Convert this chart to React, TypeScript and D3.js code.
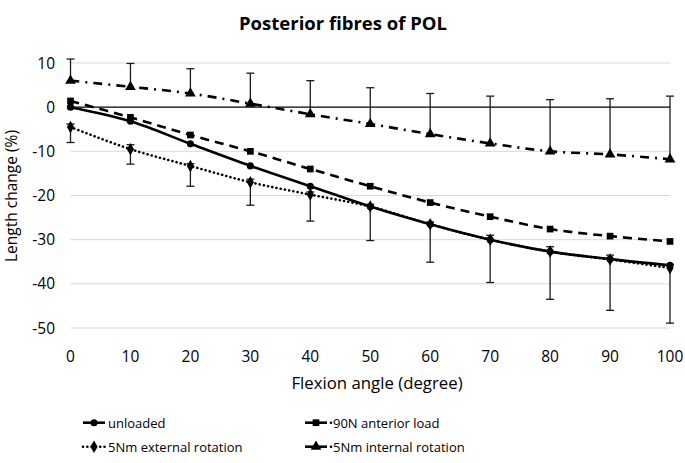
import React from "react";
import * as d3 from "d3";

const angles = [0, 10, 20, 30, 40, 50, 60, 70, 80, 90, 100];
const unloaded = [0, -3.2, -8.3, -13.3, -17.9, -22.5, -26.5, -30, -32.7, -34.4, -35.8];
const anterior = [1.4, -2.3, -6.3, -10, -14, -17.9, -21.6, -24.8, -27.6, -29.2, -30.4];
const external = [-4.5, -9.5, -13.3, -17, -19.8, -22.5, -26.5, -30, -32.7, -34.5, -36.4];
const internal = [6, 4.6, 3.1, 0.8, -1.6, -3.8, -6.1, -8.2, -10, -10.7, -11.8];
const externalErrPlus = [0.7, 1, 0.5, 0.7, 0.6, 0.5, 0.5, 1, 1.1, 1, 0.8];
const externalErrMinus = [3.5, 3.4, 4.6, 5.2, 6, 7.7, 8.6, 9.7, 10.8, 11.5, 12.5];
const internalErrPlus = [4.9, 5.3, 5.6, 6.9, 7.6, 8.2, 9.2, 10.7, 11.7, 12.6, 14.3];
const yTicks = [10, 0, -10, -20, -30, -40, -50];
const xTicks = [0, 10, 20, 30, 40, 50, 60, 70, 80, 90, 100];
const seriesNames = ["unloaded", "90N anterior load", "5Nm external rotation", "5Nm internal rotation"];

const FONT = "'Open Sans', sans-serif";

type Marker = "circle" | "square" | "diamond" | "triangle";

function markerPath(kind: Marker, size: number) {
  const sym =
    kind === "circle" ? d3.symbolCircle :
    kind === "square" ? d3.symbolSquare :
    kind === "diamond" ? d3.symbolDiamond : d3.symbolTriangle;
  return d3.symbol().type(sym).size(size)() as string;
}

const series = [
  { name: seriesNames[0], values: unloaded, dash: "none", width: 2.6, marker: "circle" as Marker, msize: 40, cap: "butt", bullet: false },
  { name: seriesNames[1], values: anterior, dash: "9,6", width: 2.6, marker: "square" as Marker, msize: 45, cap: "butt", bullet: true },
  { name: seriesNames[2], values: external, dash: "0.1,4.2", width: 2.6, marker: "diamond" as Marker, msize: 45, cap: "round", bullet: false },
  { name: seriesNames[3], values: internal, dash: "9,6,2,6", width: 2.6, marker: "triangle" as Marker, msize: 50, cap: "butt", bullet: true },
];

export default function App() {
  const W = 685, H = 463;
  const x = d3.scaleLinear().domain([0, 100]).range([70.5, 670]);
  const y = d3.scaleLinear().domain([10, -50]).range([63, 328]);
  const line = d3.line<number>()
    .x((_, i) => x(angles[i]))
    .y((v) => y(v))
    .curve(d3.curveCatmullRom.alpha(0.5));

  const capW = 4;
  const errBars: { xi: number; y0: number; y1: number; capTop: boolean; capBottom: boolean }[] = [];
  angles.forEach((a, i) => {
    errBars.push({ xi: a, y0: external[i] + externalErrPlus[i], y1: external[i] - externalErrMinus[i], capTop: true, capBottom: true });
    errBars.push({ xi: a, y0: internal[i] + internalErrPlus[i], y1: internal[i], capTop: true, capBottom: false });
  });

  const legendItems = [
    { s: series[0], lx: 83, ly: 428 },
    { s: series[1], lx: 305, ly: 428 },
    { s: series[2], lx: 83, ly: 452 },
    { s: series[3], lx: 305, ly: 452 },
  ];

  return (
    <svg width={W} height={H} style={{ position: "absolute", left: 0, top: 0, background: "#fff" }} fontFamily={FONT}>
      <rect x={0} y={0} width={W} height={H} fill="#fff" />
      <text x={343} y={30} textAnchor="middle" fontSize={18.5} fontWeight="bold" fill="#000">Posterior fibres of POL</text>

      {yTicks.filter((t) => t !== 0).map((t) => (
        <line key={t} x1={x(0)} x2={x(100)} y1={y(t)} y2={y(t)} stroke="#d9d9d9" strokeWidth={1} />
      ))}
      <line x1={x(0)} x2={x(100)} y1={y(0)} y2={y(0)} stroke="#000" strokeWidth={1.2} />

      {yTicks.map((t) => (
        <text key={t} x={55} y={y(t) + 5.5} textAnchor="end" fontSize={15.5} fill="#000">{t}</text>
      ))}
      {xTicks.map((t) => (
        <text key={t} x={x(t)} y={362} textAnchor="middle" fontSize={15.5} fill="#000">{t}</text>
      ))}
      <text x={377} y={389} textAnchor="middle" fontSize={16.8} fill="#000">Flexion angle (degree)</text>
      <text transform={`translate(17,196) rotate(-90)`} textAnchor="middle" fontSize={15.5} fill="#000">Length change (%)</text>

      {series.map((s) => (
        <path key={s.name} d={line(s.values) as string} fill="none" stroke="#000" strokeWidth={s.width}
          strokeDasharray={s.dash} strokeLinecap={s.cap as any} />
      ))}

      {errBars.map((e, i) => (
        <g key={i} stroke="#1a1a1a" strokeWidth={1.3}>
          <line x1={x(e.xi)} x2={x(e.xi)} y1={y(e.y0)} y2={y(e.y1)} />
          {e.capTop && <line x1={x(e.xi) - capW} x2={x(e.xi) + capW} y1={y(e.y0)} y2={y(e.y0)} />}
          {e.capBottom && <line x1={x(e.xi) - capW} x2={x(e.xi) + capW} y1={y(e.y1)} y2={y(e.y1)} />}
        </g>
      ))}

      {series.map((s) =>
        s.values.map((v, i) => (
          <path key={s.name + i} d={markerPath(s.marker, s.msize)} transform={`translate(${x(angles[i])},${y(v)})`} fill="#000" />
        ))
      )}

      {legendItems.map(({ s, lx, ly }) => (
        <g key={s.name}>
          <line x1={lx} x2={lx + 22} y1={ly - 5.3} y2={ly - 5.3} stroke="#000" strokeWidth={s.width}
            strokeDasharray={s.bullet ? "none" : s.dash} strokeLinecap={s.cap as any} />
          {s.bullet && <circle cx={lx + 26} cy={ly - 5.3} r={1.3} fill="#000" />}
          <path d={markerPath(s.marker, s.msize)} transform={`translate(${lx + 11},${ly - 5.3})`} fill="#000" />
          <text x={lx + (s.bullet ? 28 : 25)} y={ly} fontSize={13} fill="#000">{s.name}</text>
        </g>
      ))}
    </svg>
  );
}
